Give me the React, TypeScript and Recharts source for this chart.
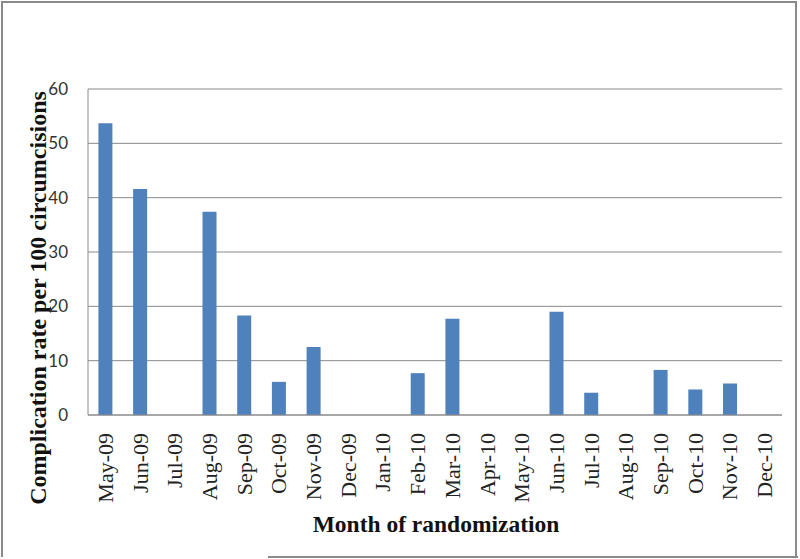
import React from 'react';
import { BarChart, Bar, XAxis, YAxis, CartesianGrid, Label } from 'recharts';

const months = ['May-09','Jun-09','Jul-09','Aug-09','Sep-09','Oct-09','Nov-09','Dec-09','Jan-10','Feb-10','Mar-10','Apr-10','May-10','Jun-10','Jul-10','Aug-10','Sep-10','Oct-10','Nov-10','Dec-10'];
const rates = [53.7, 41.6, 0, 37.4, 18.3, 6.1, 12.5, 0, 0, 7.7, 17.7, 0, 0, 19.0, 4.1, 0, 8.3, 4.7, 5.8, 0];
const yTicks = [0, 10, 20, 30, 40, 50, 60];

const data = months.map((m, i) => ({ month: m, rate: rates[i] }));

const XTick = (props: any) => {
  const { x, y, payload } = props;
  return (
    <text x={x} y={y} transform={`rotate(-90, ${x}, ${y})`} textAnchor="end" dominantBaseline="central"
      fontFamily="'Liberation Serif', 'Times New Roman', serif" fontSize={22} fill="#222">
      {payload.value}
    </text>
  );
};

export default function App() {
  return (
    <div style={{ position: 'absolute', left: 0, top: 0, width: 800, height: 559, background: '#fff' }}>
      <div style={{ position: 'absolute', left: 1, top: 1, width: 796, height: 556, borderLeft: '2px solid #8a8a8a', borderTop: '2px solid #8a8a8a', borderRight: '2px solid #8a8a8a', boxSizing: 'border-box' }} />
      <div style={{ position: 'absolute', left: 268, top: 556, width: 530, height: 2, background: '#8a8a8a' }} />
      <div style={{ position: 'absolute', left: 0, top: 0 }}>
        <BarChart width={800} height={559} data={data} margin={{ top: 89, right: 18, left: 0, bottom: 0 }} barCategoryGap="30%">
          <CartesianGrid vertical={false} stroke="#8a8a8a" strokeWidth={1} />
          <XAxis dataKey="month" height={144} interval={0} tickLine={false} axisLine={{ stroke: '#8a8a8a' }}
            tick={<XTick />} tickMargin={12}>
            <Label content={() => (
              <text x={436} y={524} textAnchor="middle" dominantBaseline="central"
                fontFamily="'Liberation Serif', 'Times New Roman', serif" fontWeight="bold" fontSize={23.5} fill="#111">
                Month of randomization
              </text>
            )} />
          </XAxis>
          <YAxis width={88} domain={[0, 60]} ticks={yTicks} tickLine={false} axisLine={{ stroke: '#8a8a8a' }}
            tick={{ fontFamily: "Lato, 'Open Sans', sans-serif", fontSize: 17, fill: '#333' }} tickMargin={14}>
            <Label content={() => (
              <text x={38} y={298} transform="rotate(-90, 38, 298)" textAnchor="middle" dominantBaseline="central"
                fontFamily="'Liberation Serif', 'Times New Roman', serif" fontWeight="bold" fontSize={24} fill="#111">
                Complication rate per 100 circumcisions
              </text>
            )} />
          </YAxis>
          <Bar dataKey="rate" fill="#4F81BD" isAnimationActive={false} />
        </BarChart>
      </div>
    </div>
  );
}
